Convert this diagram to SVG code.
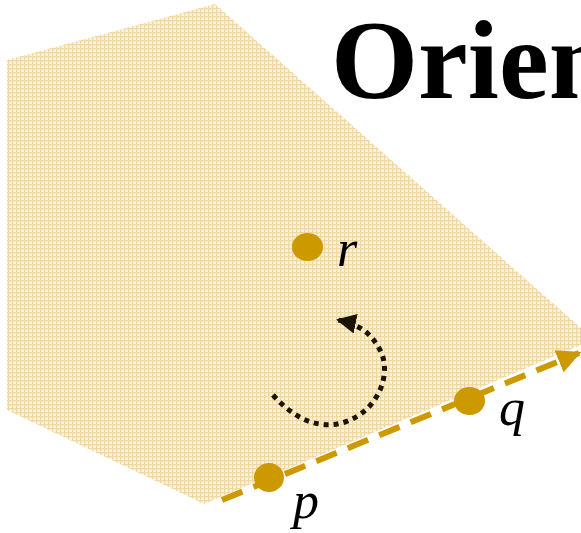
<svg xmlns="http://www.w3.org/2000/svg" width="581" height="533" viewBox="0 0 581 533">
<style>
.lbl{font-family:"Liberation Serif",serif;font-style:italic;font-size:52px;fill:#000}
.pt{fill:#cc9900}
</style>
<defs>
<pattern id="grid" width="4" height="4" patternUnits="userSpaceOnUse">
<rect width="4" height="4" fill="#fcf4e0"/>
<rect x="0" y="0" width="4" height="1.3" fill="#efd9a0"/>
<rect x="0" y="0" width="1.3" height="4" fill="#efd9a0"/>
</pattern>
<marker id="arrG" viewBox="0 0 10 10" refX="9" refY="5" markerWidth="4" markerHeight="4" orient="auto" markerUnits="strokeWidth">
<path d="M0,0 L10,5 L0,10 Z" fill="#cc9900"/>
</marker>
<marker id="arrK" viewBox="0 0 10 10" refX="9" refY="5" markerWidth="4" markerHeight="4" orient="auto" markerUnits="strokeWidth">
<path d="M0,0 L10,5 L0,10 Z" fill="#1a1400"/>
</marker>
</defs>
<g id="plane">
<polygon points="7,60 215,4 581,328 581,345 204,504 7,410" fill="url(#grid)"/>
</g>
<g id="title">
<text x="331" y="98" font-family="Liberation Serif,serif" font-weight="bold" font-size="112">Orien</text>
</g>
<g id="connectors">
<line x1="222" y1="500" x2="579" y2="353" stroke="#cc9900" stroke-width="6" stroke-dasharray="22 12" marker-end="url(#arrG)"/>
<path d="M273,395 C295,420 320,430 345,422 C380,410 392,372 380,350 C372,335 362,325 338,320" fill="none" stroke="#1a1400" stroke-width="5" stroke-dasharray="5 5" marker-end="url(#arrK)"/>
</g>
<g id="r"><ellipse class="pt" cx="307.5" cy="247" rx="15.5" ry="14"/><text class="lbl" x="337" y="266">r</text></g>
<g id="q"><ellipse class="pt" cx="469.5" cy="401" rx="15.5" ry="14"/><text class="lbl" x="499" y="425">q</text></g>
<g id="p"><ellipse class="pt" cx="269" cy="477.5" rx="15" ry="14.5"/><text class="lbl" x="293" y="518">p</text></g>
</svg>
